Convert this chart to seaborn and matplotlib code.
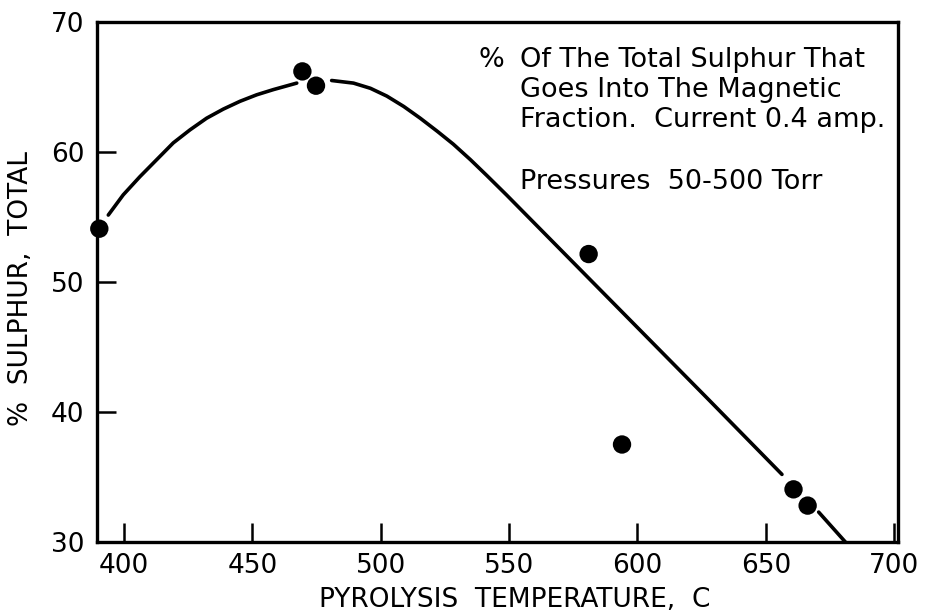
import matplotlib
matplotlib.use("Agg")
import matplotlib.pyplot as plt
import seaborn as sns
import pandas as pd

# Measured points: pyrolysis temperature (C) vs % of total sulphur
temp_points = [390.4, 469.5, 474.8, 581.0, 594.0, 660.8, 666.3]
sulphur_points = [54.1, 66.2, 65.1, 52.15, 37.5, 34.05, 32.8]

# Hand-drawn trend curve, broken where it passes the markers
curve_segment = [0] * 12 + [1] * 16 + [2] * 2
curve_temp = [393.9, 399.7, 406.2, 412.7, 419.2, 425.7, 432.2, 438.7, 445.2, 451.7, 458.2, 467.3,
              480.9, 489.4, 496.0, 502.4, 509.0, 515.4, 522.0, 528.3, 535.0, 541.3, 549.0,
              560.0, 575.0, 600.0, 627.0, 656.3,
              670.6, 681.0]
curve_sulphur = [55.15, 56.7, 58.1, 59.4, 60.7, 61.7, 62.6, 63.3, 63.9, 64.4, 64.8, 65.3,
                 65.5, 65.3, 64.9, 64.3, 63.5, 62.6, 61.6, 60.6, 59.4, 58.2, 56.7,
                 54.5, 51.5, 46.5, 41.1, 35.2,
                 32.3, 30.0]

x_ticks = [400, 450, 500, 550, 600, 650, 700]
y_ticks = [30, 40, 50, 60, 70]

note_lines = ["Of The Total Sulphur That",
              "Goes Into The Magnetic",
              "Fraction.  Current 0.4 amp."]
pressure_note = "Pressures  50-500 Torr"

points = pd.DataFrame({"temp": temp_points, "sulphur": sulphur_points})
curve = pd.DataFrame({"seg": curve_segment, "temp": curve_temp, "sulphur": curve_sulphur})

sns.set_style("ticks")
plt.rcParams["font.family"] = ["DejaVu Sans"]
plt.rcParams["text.color"] = "black"
plt.rcParams["axes.labelcolor"] = "black"

fig = plt.figure(figsize=(9.29, 6.12), dpi=100)
ax = fig.add_axes([97 / 929, 1 - 542 / 612, 801 / 929, 520 / 612])

sns.lineplot(data=curve, x="temp", y="sulphur", units="seg", estimator=None,
             sort=False, color="black", linewidth=2.6, ax=ax, legend=False)
sns.scatterplot(data=points, x="temp", y="sulphur", color="black", s=175,
                edgecolor="none", ax=ax, legend=False, zorder=5, clip_on=False)

ax.set_xlim(389.5, 701.5)
ax.set_ylim(30, 70)
ax.set_xticks(x_ticks)
ax.set_yticks(y_ticks)
ax.tick_params(axis="both", direction="in", length=14, width=1.8,
               labelsize=19, colors="black")
ax.tick_params(axis="x", pad=8)
ax.tick_params(axis="y", pad=9)
for side in ["top", "right", "bottom", "left"]:
    ax.spines[side].set_visible(True)
    ax.spines[side].set_linewidth(2.4)
    ax.spines[side].set_color("black")

ax.set_xlabel("PYROLYSIS  TEMPERATURE,  C", fontsize=19)
ax.set_ylabel("%  SULPHUR,  TOTAL", fontsize=19)
ax.xaxis.label.set_va("center")
ax.yaxis.label.set_va("center")
ax.xaxis.set_label_coords(0.522, -0.1115)
ax.yaxis.set_label_coords(-0.095, 0.487)

note_size = 19.5
ax.text(538.0, 67.1, "%", fontsize=note_size, ha="left", va="center")
for i, line in enumerate(note_lines):
    ax.text(554.3, 67.1 - 2.3 * i, line, fontsize=note_size, ha="left", va="center")
ax.text(554.3, 57.7, pressure_note, fontsize=note_size, ha="left", va="center")

fig.savefig("out.png", dpi=100, facecolor="white")
